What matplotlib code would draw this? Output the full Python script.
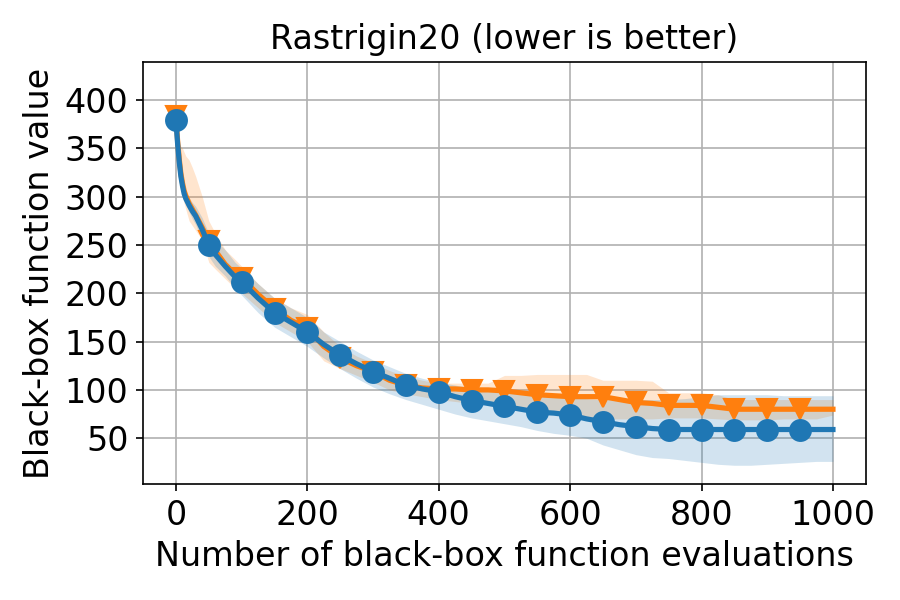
import matplotlib
matplotlib.use("Agg")
import matplotlib.pyplot as plt
import numpy as np

evals = [0, 1, 2.5, 5, 7.5, 10, 12.5, 15, 20, 25, 30, 40, 50,
         60, 75, 90, 100, 125, 150, 175, 200,
         225, 250, 275, 300, 325, 350, 375, 400, 425, 450, 475, 500, 525, 550, 575,
         600, 625, 650, 675, 700, 725, 750, 775, 800, 825, 850, 875, 900, 925, 950,
         975, 1000]

blue_med = [379, 369, 355, 336, 321, 311, 303, 298, 291, 285, 280, 266, 250,
            240, 228, 217, 212, 195, 180, 170, 160,
            147, 136, 127, 119, 112, 105, 101, 98, 93, 89, 86, 83, 80, 77, 76,
            74, 70, 67, 64, 62, 60, 59, 59, 59, 59, 59, 59, 59, 59, 59, 59, 59]
blue_lo = [379, 364, 349, 330, 315, 305, 297, 292, 284, 277, 271, 255, 238,
           228, 218, 205, 198, 180, 165, 155, 145,
           133, 122, 112, 103, 96, 90, 85, 80, 75, 71, 68, 65, 62, 58, 55,
           53, 50, 43, 38, 33, 30, 29, 27, 25, 23, 22, 22, 23, 24, 25, 26, 26]
blue_hi = [379, 374, 361, 343, 328, 318, 310, 305, 299, 294, 290, 278, 262,
           255, 245, 232, 226, 210, 195, 185, 175,
           160, 150, 140, 131, 124, 117, 112, 108, 105, 102, 100, 98, 96, 94, 93,
           92, 91, 90, 90, 90, 90, 90, 91, 93, 95, 95, 95, 95, 94, 94, 94, 94]

orange_med = [383, 372, 358, 339, 324, 314, 306, 301, 293, 287, 281, 268, 254,
              244, 230, 220, 216, 199, 184, 172, 164,
              145, 133, 125, 119, 110, 105, 102, 101, 101, 100, 100, 99, 97, 95, 94,
              93, 93, 93, 90, 87, 86, 84, 84, 84, 82, 80, 80, 80, 80, 80, 80, 80]
orange_lo = [383, 355, 345, 325, 312, 300, 293, 287, 275, 270, 265, 255, 232,
             225, 215, 205, 200, 185, 170, 160, 150,
             130, 122, 115, 108, 100, 96, 93, 90, 88, 86, 85, 84, 80, 78, 76,
             74, 72, 70, 70, 70, 70, 71, 71, 71, 70, 69, 69, 69, 70, 70, 70, 74]
orange_hi = [383, 378, 365, 355, 352, 350, 346, 342, 338, 330, 321, 300, 275,
             262, 245, 235, 228, 210, 195, 185, 178,
             160, 145, 135, 128, 120, 114, 110, 107, 107, 107, 107, 115, 115, 116, 116,
             116, 116, 110, 110, 110, 109, 97, 97, 97, 95, 90, 90, 90, 90, 90, 90, 90]

x = np.array(evals)
marks = [i for i, e in enumerate(evals) if e % 50 == 0 and e < 1000]

plt.rcParams["font.size"] = 16
fig, ax = plt.subplots(figsize=(6, 4), dpi=150)
fig.subplots_adjust(left=0.159, right=0.962, top=0.897, bottom=0.193)

ax.fill_between(x, orange_lo, orange_hi, color="C1", alpha=0.2, linewidth=0)
ax.fill_between(x, blue_lo, blue_hi, color="C0", alpha=0.2, linewidth=0)
ax.plot(x, orange_med, color="C1", lw=2.5, marker="v", ms=10, markevery=marks)
ax.plot(x, blue_med, color="C0", lw=2.5, marker="o", ms=10, markevery=marks)

ax.set_xlim(-50, 1050)
ax.set_ylim(2.4, 439.6)
ax.set_yticks([50, 100, 150, 200, 250, 300, 350, 400])
ax.grid(True)
ax.set_axisbelow(True)
ax.set_title("Rastrigin20 (lower is better)", fontsize=16)
ax.set_xlabel("Number of black-box function evaluations")
ax.set_ylabel("Black-box function value")

fig.savefig("out.png")
